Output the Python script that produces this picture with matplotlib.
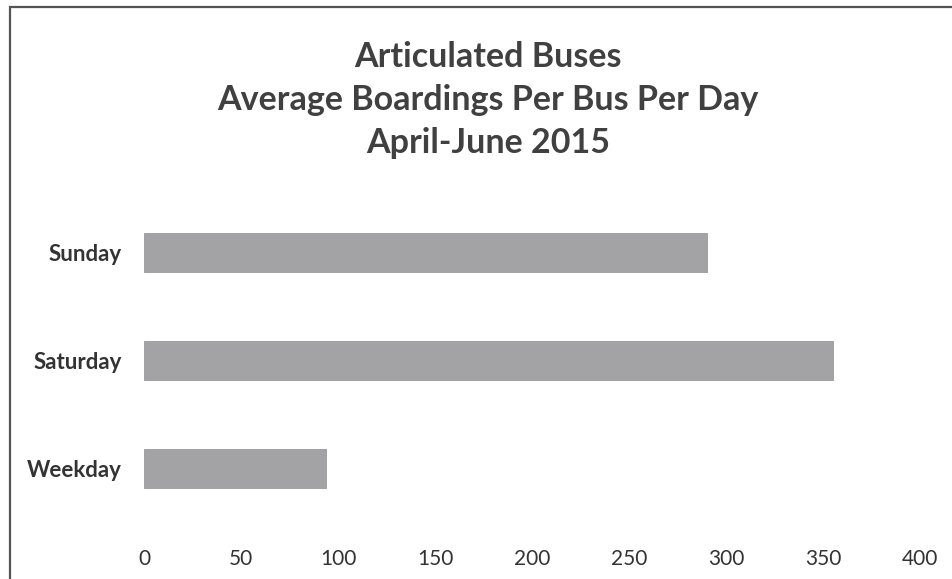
import matplotlib.pyplot as plt
from matplotlib.patches import Rectangle

days = ['Weekday', 'Saturday', 'Sunday']
boardings = [94, 355, 290]
x_ticks = [0, 50, 100, 150, 200, 250, 300, 350, 400]

plt.rcParams['font.family'] = ['Lato', 'DejaVu Sans']

fig = plt.figure(figsize=(9.53, 5.79), dpi=100)
ax = fig.add_axes([144 / 953, 1 - 523 / 579, (920 - 144) / 953, (523 - 198.5) / 579])

ax.barh(range(len(days)), boardings, height=0.36, color='#a3a3a5', edgecolor='#9a9a9c', linewidth=0.6)
ax.set_xlim(0, 400)
ax.set_ylim(-0.5, 2.5)
ax.set_xticks(x_ticks)
ax.set_xticklabels([str(t) for t in x_ticks], fontsize=15, color='#333333')
ax.set_yticks(range(len(days)))
ax.set_yticklabels(days, fontsize=16, fontweight='bold', color='#333333')
ax.tick_params(axis='x', length=0, pad=19)
ax.tick_params(axis='y', length=0, pad=16)
for s in ax.spines.values():
    s.set_visible(False)

# chart title, three lines
fig.text(0.512, 1 - 100 / 579, 'Articulated Buses\nAverage Boardings Per Bus Per Day\nApril-June 2015',
         ha='center', va='center', fontsize=24.5, fontweight='bold', color='#404040', linespacing=1.42)

# border of the chart area (cut off on the right and bottom)
fig.patches.append(Rectangle((10 / 953, -0.05), 1.1, 1 - 7 / 579 + 0.05, transform=fig.transFigure,
                             fill=False, edgecolor='#555555', linewidth=1.6))

fig.savefig('out.png', dpi=100)
